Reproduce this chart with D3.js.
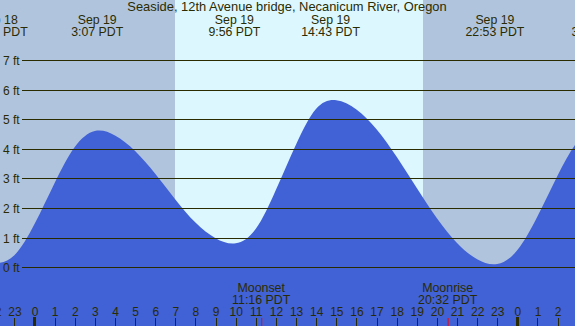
<!DOCTYPE html>
<html>
<head>
<meta charset="utf-8">
<script src="https://cdn.jsdelivr.net/npm/d3@7"></script>
<style>
  body { margin: 0; padding: 0; background: #b0c4de; }
  svg { display: block; font-family: "Liberation Sans", Arial, sans-serif; }
</style>
</head>
<body>
<svg id="chart" width="575" height="326"></svg>
<script>
var title = "Seaside, 12th Avenue bridge, Necanicum River, Oregon";

// hourly tide heights (ft), hours counted from Sep 19 00:00 PDT
var tideHours = d3.range(-3, 29);
var tideFeet  = [0.32, 0.15, 0.41, 1.46, 2.85, 4.06, 4.60, 4.45, 3.93, 3.16, 2.29, 1.51, 0.98, 0.81,
                 1.30, 2.62, 4.15, 5.35, 5.64, 5.33, 4.66, 3.73, 2.68, 1.66, 0.82, 0.27, 0.11,
                 0.58, 1.72, 3.10, 4.25, 4.75];

// high / low labels across the top
var extremeHours = [-1.8, 3.117, 9.933, 14.717, 22.883, 27.98];
var extremeDates = ["Sep 18", "Sep 19", "Sep 19", "Sep 19", "Sep 19", "Sep 20"];
var extremeTimes = ["22:12 PDT", "3:07 PDT", "9:56 PDT", "14:43 PDT", "22:53 PDT", "3:59 PDT"];

// daylight
var sunriseHour = 6.98, sunsetHour = 19.31;

// moon events
var moonNames = ["Moonset", "Moonrise"];
var moonHours = [11.267, 20.533];
var moonTimes = ["11:16 PDT", "20:32 PDT"];

var footTicks = [0, 1, 2, 3, 4, 5, 6, 7];
var hourTicks = d3.range(-2, 28);

var width = 575, height = 326;
var svg = d3.select("#chart");

var x = d3.scaleLinear().domain([-1.7147, 26.864]).range([0, width]);
var y = d3.scaleLinear().domain([0, 7]).range([267.3, 60]);

var ink = "#2b2b00";

// night background + daylight band
svg.append("rect").attr("x", 0).attr("y", 0).attr("width", width).attr("height", height)
    .attr("fill", "#b0c4de");
svg.append("rect")
    .attr("x", Math.round(x(sunriseHour)))
    .attr("y", 0)
    .attr("width", Math.round(x(sunsetHour)) - Math.round(x(sunriseHour)))
    .attr("height", height)
    .attr("fill", "#ddf7ff");

// tide area
var tideData = tideHours.map(function(h, i) { return {h: h, v: tideFeet[i]}; });
var area = d3.area()
    .x(function(d) { return x(d.h); })
    .y0(height)
    .y1(function(d) { return y(d.v); })
    .curve(d3.curveNatural);
svg.append("path").datum(tideData)
    .attr("d", area)
    .attr("fill", "#4161d6");

// foot gridlines
var grid = svg.append("g").attr("class", "grid");
grid.selectAll("line").data(footTicks).enter().append("line")
    .attr("x1", 22).attr("x2", width)
    .attr("y1", function(d) { return Math.round(y(d)) + 0.5; })
    .attr("y2", function(d) { return Math.round(y(d)) + 0.5; })
    .attr("stroke", ink).attr("stroke-width", 1);
grid.selectAll("text").data(footTicks).enter().append("text")
    .attr("x", 3)
    .attr("y", function(d) { return Math.round(y(d)) + 4.5; })
    .attr("font-size", 12).attr("fill", ink)
    .text(function(d) { return d + " ft"; });

// title
svg.append("text").attr("x", 287).attr("y", 11)
    .attr("text-anchor", "middle").attr("font-size", 12.9).attr("fill", ink)
    .text(title);

// tide extreme labels
var ext = svg.append("g").selectAll("g").data(extremeHours).enter().append("g")
    .attr("transform", function(d) { return "translate(" + x(d) + ",0)"; });
ext.append("text").attr("y", 23.5).attr("text-anchor", "middle")
    .attr("font-size", 12.3).attr("fill", ink)
    .text(function(d, i) { return extremeDates[i]; });
ext.append("text").attr("y", 35.5).attr("text-anchor", "middle")
    .attr("font-size", 12.3).attr("fill", ink)
    .text(function(d, i) { return extremeTimes[i]; });

// hour axis along the bottom
var axis = d3.axisBottom(x)
    .tickValues(hourTicks)
    .tickSize(0)
    .tickFormat(function(d) { return ((d % 24) + 24) % 24; });
var ax = svg.append("g").attr("transform", "translate(0,305)").call(axis);
ax.select(".domain").remove();
ax.selectAll("text").attr("font-size", 12).attr("fill", ink)
    .attr("font-family", "Liberation Sans, Arial, sans-serif").attr("dy", 0).attr("y", 11);

svg.append("g").selectAll("line").data(hourTicks).enter().append("line")
    .attr("x1", function(d) { return Math.round(x(d)) + 0.5; })
    .attr("x2", function(d) { return Math.round(x(d)) + 0.5; })
    .attr("y1", function(d) { return d % 24 === 0 ? 317 : 318; })
    .attr("y2", height)
    .attr("stroke", ink)
    .attr("stroke-width", function(d) { return d % 24 === 0 ? 3 : 1; });

// moon events
var moon = svg.append("g").selectAll("g").data(moonHours).enter().append("g")
    .attr("transform", function(d) { return "translate(" + x(d) + ",0)"; });
moon.append("text").attr("y", 292).attr("text-anchor", "middle")
    .attr("font-size", 12.4).attr("fill", ink)
    .text(function(d, i) { return moonNames[i]; });
moon.append("text").attr("y", 304).attr("text-anchor", "middle")
    .attr("font-size", 12.4).attr("fill", ink)
    .text(function(d, i) { return moonTimes[i]; });
moon.append("line")
    .attr("x1", 0.5).attr("x2", 0.5).attr("y1", 318).attr("y2", height)
    .attr("stroke", "#ff0000").attr("stroke-width", 1);
</script>
</body>
</html>
